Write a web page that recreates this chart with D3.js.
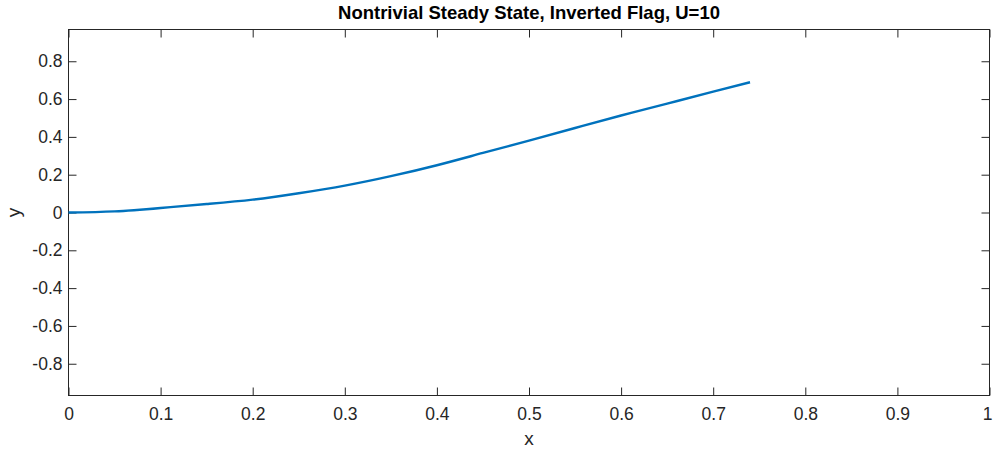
<!DOCTYPE html>
<html>
<head>
<meta charset="utf-8">
<script src="https://cdn.jsdelivr.net/npm/d3@7"></script>
<style>
  html, body { margin: 0; padding: 0; background: #fff; }
  svg { display: block; font-family: "Liberation Sans", Arial, Helvetica, sans-serif; }
</style>
</head>
<body>
<svg id="chart" width="993" height="450"></svg>
<script>
// Flag centreline shape (x, y) for the nontrivial steady state
const xValues = [0, 0.05, 0.1, 0.15, 0.2, 0.25, 0.3, 0.35, 0.4, 0.45, 0.5, 0.55, 0.6, 0.65, 0.7, 0.74];
const yValues = [0, 0.006, 0.024, 0.045, 0.068, 0.102, 0.142, 0.192, 0.25, 0.315, 0.38, 0.447, 0.513, 0.576, 0.639, 0.689];
const xTicks = [0, 0.1, 0.2, 0.3, 0.4, 0.5, 0.6, 0.7, 0.8, 0.9, 1];
const yTicks = [-0.8, -0.6, -0.4, -0.2, 0, 0.2, 0.4, 0.6, 0.8];
const xDomain = [0, 1];
const yDomain = [-0.968, 0.968];
const titleText = "Nontrivial Steady State, Inverted Flag, U=10";

const svg = d3.select("#chart");
const plot = { left: 68.5, right: 989.5, top: 29.5, bottom: 395.5 };
const axisColor = "#262626";
const tickLen = 8;

const x = d3.scaleLinear().domain(xDomain).range([plot.left, plot.right]);
const y = d3.scaleLinear().domain(yDomain).range([plot.bottom, plot.top]);

// Plain hyphen for negatives, integers without decimals
const fmt = d => {
  const v = +(+d).toFixed(1);
  return Number.isInteger(v) ? String(v) : (v < 0 ? "-" + Math.abs(v).toFixed(1) : v.toFixed(1));
};

// Frame
svg.append("rect")
  .attr("x", plot.left).attr("y", plot.top)
  .attr("width", plot.right - plot.left).attr("height", plot.bottom - plot.top)
  .attr("fill", "none").attr("stroke", axisColor).attr("stroke-width", 1);

// Bottom axis labels + inward ticks on bottom and top
const xAxisBottom = d3.axisBottom(x).tickValues(xTicks).tickSize(-tickLen).tickPadding(12).tickFormat(fmt);
const gxb = svg.append("g").attr("transform", `translate(0,${plot.bottom})`).call(xAxisBottom);
const xAxisTop = d3.axisTop(x).tickValues(xTicks).tickSize(-tickLen).tickFormat("");
const gxt = svg.append("g").attr("transform", `translate(0,${plot.top})`).call(xAxisTop);

// Left axis labels + inward ticks on left and right
const yAxisLeft = d3.axisLeft(y).tickValues(yTicks).tickSize(-tickLen).tickPadding(6).tickFormat(fmt);
const gyl = svg.append("g").attr("transform", `translate(${plot.left},0)`).call(yAxisLeft);
const yAxisRight = d3.axisRight(y).tickValues(yTicks).tickSize(-tickLen).tickFormat("");
const gyr = svg.append("g").attr("transform", `translate(${plot.right},0)`).call(yAxisRight);

[gxb, gxt, gyl, gyr].forEach(g => {
  g.select(".domain").remove();
  g.selectAll(".tick line").attr("stroke", axisColor).attr("stroke-width", 1);
  g.selectAll(".tick text")
    .attr("fill", axisColor)
    .style("font-size", "17.5px")
    .style("font-family", "Liberation Sans, Arial, Helvetica, sans-serif");
});

// Keep the last x label inside the canvas edge
gxb.selectAll(".tick text").filter(d => d === xDomain[1]).attr("dx", "-2.5");

// Curve
const pts = xValues.map((v, i) => [v, yValues[i]]);
svg.append("path")
  .datum(pts)
  .attr("fill", "none")
  .attr("stroke", "#0072BD")
  .attr("stroke-width", 2.4)
  .attr("stroke-linejoin", "round")
  .attr("d", d3.line().x(d => x(d[0])).y(d => y(d[1])).curve(d3.curveNatural));

// Title
svg.append("text")
  .attr("x", (plot.left + plot.right) / 2)
  .attr("y", 19)
  .attr("text-anchor", "middle")
  .attr("fill", "#000")
  .style("font-size", "18.5px")
  .style("font-weight", "bold")
  .text(titleText);

// Axis labels
svg.append("text")
  .attr("x", (plot.left + plot.right) / 2)
  .attr("y", 445)
  .attr("text-anchor", "middle")
  .attr("fill", axisColor)
  .style("font-size", "19px")
  .text("x");

svg.append("text")
  .attr("transform", `translate(20,${(plot.top + plot.bottom) / 2}) rotate(-90)`)
  .attr("text-anchor", "middle")
  .attr("fill", axisColor)
  .style("font-size", "19px")
  .text("y");
</script>
</body>
</html>
